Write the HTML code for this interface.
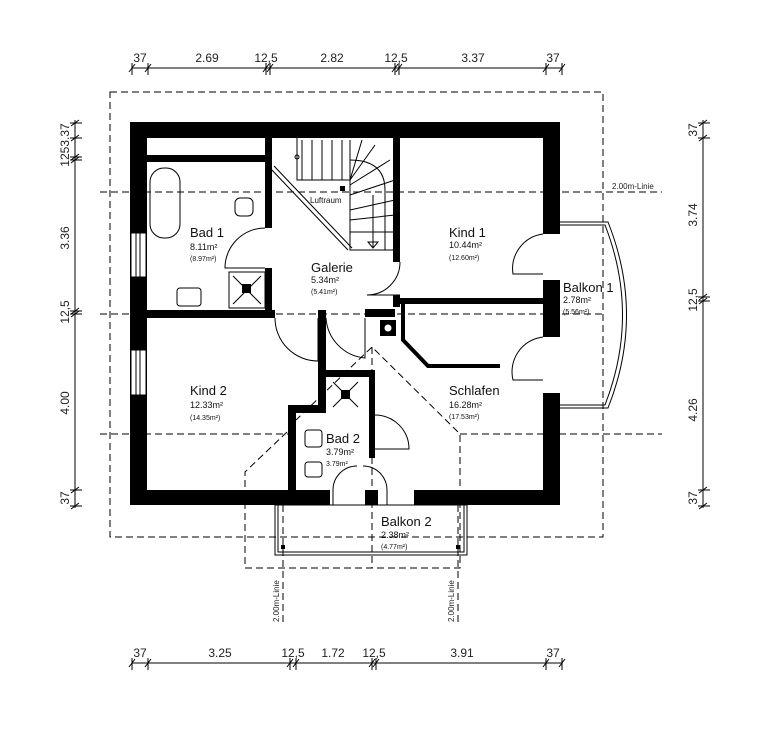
<!DOCTYPE html>
<html><head><meta charset="utf-8"><style>
html,body{margin:0;padding:0;background:#fff;}
svg{display:block;font-family:"Liberation Sans",Arial,sans-serif;}
</style></head><body>
<svg width="779" height="731" viewBox="0 0 779 731" xmlns="http://www.w3.org/2000/svg">
<g stroke="#000" stroke-width="1" fill="none">
<!-- dims top -->
<line x1="132" y1="68" x2="562" y2="68"/>
<g stroke-width="1">
<path d="M132 63v12M148 63v12M266 63v12M270 63v12M395 63v12M399 63v12M546 63v12M562 63v12"/>
<path d="M129 72l6-8M145 72l6-8M263 72l6-8M267 72l6-8M392 72l6-8M396 72l6-8M543 72l6-8M559 72l6-8"/>
</g>
<!-- dims bottom -->
<line x1="132" y1="663" x2="562" y2="663"/>
<path d="M132 658v12M148 658v12M290 658v12M296 658v12M372 658v12M376 658v12M546 658v12M562 658v12"/>
<path d="M129 667l6-8M145 667l6-8M287 667l6-8M293 667l6-8M369 667l6-8M373 667l6-8M543 667l6-8M559 667l6-8"/>
<!-- dims left -->
<line x1="75" y1="120" x2="75" y2="508"/>
<path d="M70 123h12M70 138h12M70 157h12M70 160h12M70 311h12M70 314h12M70 490h12M70 506h12"/>
<path d="M71 126l8-6M71 141l8-6M71 160l8-6M71 163l8-6M71 314l8-6M71 317l8-6M71 493l8-6M71 509l8-6"/>
<!-- dims right -->
<line x1="703" y1="120" x2="703" y2="508"/>
<path d="M698 123h12M698 138h12M698 297h12M698 301h12M698 490h12M698 506h12"/>
<path d="M699 126l8-6M699 141l8-6M699 300l8-6M699 304l8-6M699 493l8-6M699 509l8-6"/>
</g>
<g font-size="12" fill="#222" text-anchor="middle">
<text x="140" y="62">37</text><text x="207" y="62">2.69</text><text x="266" y="62">12,5</text><text x="332" y="62">2.82</text><text x="396" y="62">12,5</text><text x="473" y="62">3.37</text><text x="553" y="62">37</text>
<text x="140" y="657">37</text><text x="220" y="657">3.25</text><text x="293" y="657">12,5</text><text x="333" y="657">1.72</text><text x="374" y="657">12,5</text><text x="462" y="657">3.91</text><text x="553" y="657">37</text>
<text transform="translate(69,145) rotate(-90)">1253.37</text>
<text transform="translate(69,238) rotate(-90)">3.36</text>
<text transform="translate(69,312) rotate(-90)">12,5</text>
<text transform="translate(69,403) rotate(-90)">4.00</text>
<text transform="translate(69,498) rotate(-90)">37</text>
<text transform="translate(697,130) rotate(-90)">37</text>
<text transform="translate(697,215) rotate(-90)">3.74</text>
<text transform="translate(697,300) rotate(-90)">12,5</text>
<text transform="translate(697,410) rotate(-90)">4.26</text>
<text transform="translate(697,498) rotate(-90)">37</text>
</g>
<!-- dashed lines -->
<g stroke="#000" stroke-width="1" fill="none" stroke-dasharray="7,4">
<rect x="110" y="92" width="493" height="445"/>
<line x1="100" y1="192" x2="662" y2="192"/>
<line x1="100" y1="314" x2="603" y2="314"/>
<line x1="100" y1="434" x2="290" y2="434"/>
<line x1="460" y1="434" x2="662" y2="434"/>
<path d="M287 432L245 472V568H460V434L372 347L296 420"/>
<line x1="372" y1="347" x2="372" y2="568"/>
<line x1="283" y1="505" x2="283" y2="625"/>
<line x1="458" y1="505" x2="458" y2="625"/>
</g>
<g font-size="8" fill="#222">
<text x="612" y="189">2.00m-Linie</text>
<text transform="translate(279,622) rotate(-90)">2.00m-Linie</text>
<text transform="translate(454,622) rotate(-90)">2.00m-Linie</text>
</g>
<!-- balconies -->
<g stroke="#000" fill="none">
<rect x="275" y="505" width="192" height="50"/>
<rect x="278" y="505" width="186" height="47"/>
<path d="M560 222H608Q645 315 608 408H560"/>
<path d="M560 225H605Q640 315 605 405H560"/>
</g>
<rect x="281" y="545" width="4" height="4" fill="#000"/>
<rect x="456" y="545" width="4" height="4" fill="#000"/>
<!-- outer walls -->
<g fill="#000">
<rect x="130" y="122" width="430" height="16"/>
<rect x="130" y="122" width="17" height="383"/>
<rect x="543" y="122" width="17" height="112"/>
<rect x="543" y="280" width="17" height="57"/>
<rect x="543" y="393" width="17" height="112"/>
<rect x="130" y="490" width="200" height="15"/>
<rect x="365" y="490" width="13" height="15"/>
<rect x="414" y="490" width="146" height="15"/>
<!-- interior -->
<rect x="147" y="155" width="125" height="7"/>
<rect x="265" y="138" width="7" height="90"/>
<rect x="265" y="268" width="7" height="46"/>
<rect x="147" y="310" width="128" height="8"/>
<rect x="393" y="138" width="7" height="124"/>
<rect x="393" y="295" width="7" height="12"/>
<rect x="395" y="298" width="150" height="6"/>
<rect x="365" y="309" width="30" height="8"/>
<rect x="318" y="310" width="8" height="103"/>
<rect x="318" y="370" width="56" height="7"/>
<rect x="369" y="370" width="6" height="88"/>
<rect x="288" y="405" width="38" height="8"/>
<rect x="288" y="405" width="8" height="88"/>
<rect x="380" y="320" width="16" height="16"/>
</g>
<circle cx="388" cy="328" r="3.5" fill="#fff"/>
<path d="M403 304V340L428 366H500" stroke="#000" stroke-width="4" fill="none"/>
<!-- windows -->
<g fill="#fff" stroke="#000" stroke-width="1">
<rect x="131" y="233" width="15" height="44"/><rect x="131" y="350" width="15" height="45"/>
</g>
<path d="M136 233v44M140 233v44M136 350v45M140 350v45" stroke="#000"/>
<!-- doors -->
<g stroke="#000" fill="none">
<path d="M265 228A40 40 0 0 0 225 268H265"/>
<path d="M400 262A33 33 0 0 1 367 295H400"/>
<path d="M275 318A43 43 0 0 0 318 361V318"/>
<path d="M326 318A43 43 0 0 0 365 358V318"/>
<path d="M375 415A34 34 0 0 1 409 449H375"/>
<path d="M333 505V490A24 24 0 0 1 357 466"/>
<path d="M387 505V490A24 24 0 0 0 363 466"/>
<path d="M543 234A35 35 0 0 0 513 274H543"/>
<path d="M543 337A35 35 0 0 0 513 380H543"/>
<!-- stairs -->
<path d="M270 168L348 250M274 166L352 248"/>
<path d="M297 138V180H350V250H395"/>
<path d="M302 140V180M312 140V180M322 140V180M332 140V180M342 140V180M350 140V180"/>
<path d="M350 180L362 140M350 180L375 145M350 185L390 160M350 195L395 180M350 210L395 200M350 220L395 215M350 232L395 232"/>
<path d="M350 160Q385 160 385 190V250"/>
<path d="M373 195V248M368 242l5 6 5-6z"/>
<!-- bath fixtures -->
<rect x="150" y="168" width="30" height="70" rx="14"/>
<rect x="235" y="198" width="18" height="18" rx="5"/>
<rect x="177" y="288" width="24" height="18" rx="3"/>
<rect x="229" y="272" width="36" height="36"/>
<path d="M233 276l28 28M261 276l-28 28"/>
<rect x="305" y="430" width="17" height="17" rx="3"/>
<rect x="305" y="462" width="17" height="15" rx="3"/>
<path d="M333 382l25 25M358 382l-25 25"/>
</g>
<rect x="242" y="284" width="9" height="9" fill="#000"/>
<rect x="341" y="390" width="9" height="9" fill="#000"/>
<rect x="340" y="186" width="5" height="5" fill="#000"/>
<circle cx="297" cy="157" r="2" fill="none" stroke="#000"/>
<!-- labels -->
<g fill="#111">
<text x="190" y="237" font-size="13">Bad 1</text>
<text x="190" y="250" font-size="9">8.11m²</text>
<text x="190" y="261" font-size="7">(8.97m²)</text>
<text x="310" y="203" font-size="8">Luftraum</text>
<text x="311" y="272" font-size="13">Galerie</text>
<text x="311" y="283" font-size="9">5.34m²</text>
<text x="311" y="294" font-size="7">(5.41m²)</text>
<text x="449" y="237" font-size="13">Kind 1</text>
<text x="449" y="248" font-size="9">10.44m²</text>
<text x="449" y="260" font-size="7">(12.60m²)</text>
<text x="563" y="292" font-size="13">Balkon 1</text>
<text x="563" y="303" font-size="9">2.78m²</text>
<text x="563" y="314" font-size="7">(5.56m²)</text>
<text x="190" y="395" font-size="13">Kind 2</text>
<text x="190" y="408" font-size="9">12.33m²</text>
<text x="190" y="420" font-size="7">(14.35m²)</text>
<text x="449" y="395" font-size="13">Schlafen</text>
<text x="449" y="408" font-size="9">16.28m²</text>
<text x="449" y="419" font-size="7">(17.53m²)</text>
<text x="326" y="443" font-size="13">Bad 2</text>
<text x="326" y="455" font-size="9">3.79m²</text>
<text x="326" y="466" font-size="7">3.79m²</text>
<text x="381" y="526" font-size="13">Balkon 2</text>
<text x="381" y="538" font-size="9">2.38m²</text>
<text x="381" y="549" font-size="7">(4.77m²)</text>
</g>
</svg>
</body></html>
